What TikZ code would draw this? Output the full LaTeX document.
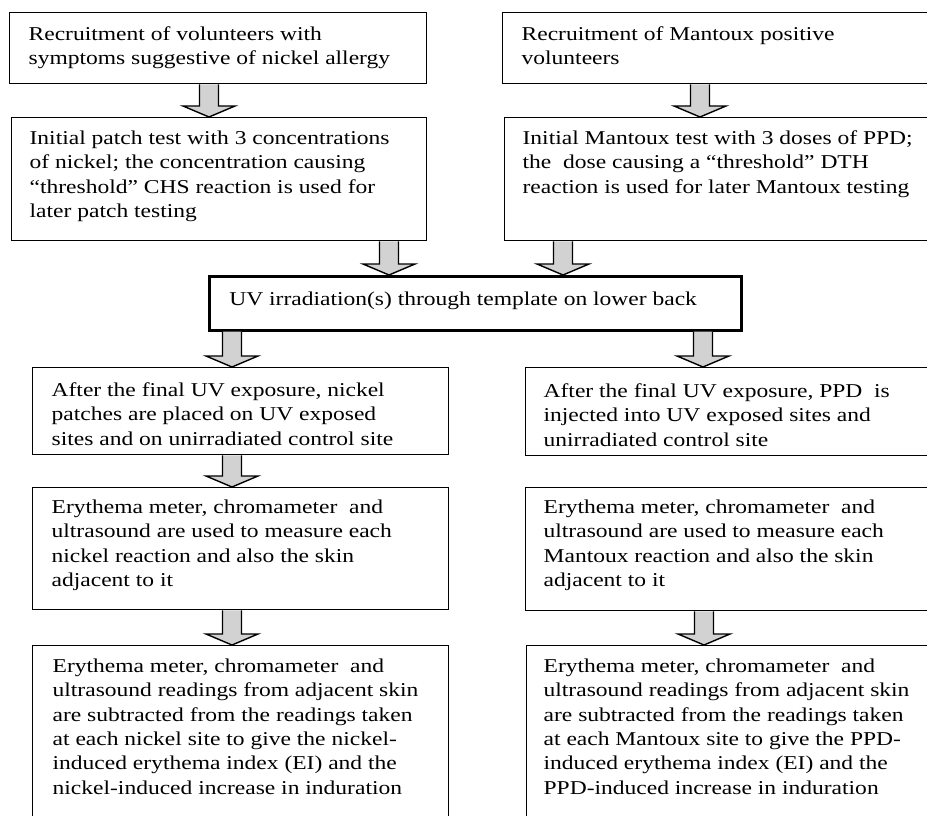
\documentclass[tikz,border=0pt]{standalone}
\usepackage{fontspec}
\setmainfont{Liberation Serif}[FakeStretch=1.2]
\usetikzlibrary{calc}
% #1 width, #2 height, #3 left pad, #4 first baseline from top, #5 text
\newcommand\boxtext[5]{\parbox[c][#2][t]{#1}{\raggedright\setlength{\leftskip}{#3}\rule{0pt}{#4}#5\par}}
\tikzset{
  flowbox/.style={draw, line width=1.3pt, inner sep=0pt, anchor=north west,
    font=\fontsize{19.6}{24.3}\selectfont},
  uvbox/.style={flowbox, line width=2.6pt},
  fatarr/.style={draw=black, fill=gray!35, line width=1.4pt, line join=miter},
}
\newcommand\fatarrow[3]{%
  \path (#1,0 |- #2.south) coordinate (fas) (#1,0 |- #3.north) coordinate (fae);
  \draw[fatarr] ($(fas)+(-9.5,0)$) -- ($(fae)+(-9.5,-11)$) -- ($(fae)+(-26,-11)$)
     -- (fae) -- ($(fae)+(26,-11)$) -- ($(fae)+(9.5,-11)$) -- ($(fas)+(9.5,0)$);
}
\begin{document}
\begin{tikzpicture}[x=1pt,y=-1pt]
\useasboundingbox (0,0) rectangle (927,816);
\clip (0,0) rectangle (927,816);
\fill[white] (0,0) rectangle (927,816);
% top row
\node[flowbox] (L1) at (9,12) {\boxtext{417pt}{71pt}{19pt}{28pt}{Recruitment of volunteers with\\ symptoms suggestive of nickel allergy}};
\node[flowbox] (R1) at (502,12) {\boxtext{440pt}{71pt}{19pt}{28pt}{Recruitment of Mantoux positive\\ volunteers}};
\node[flowbox] (L2) at (11,117) {\boxtext{415pt}{123pt}{18pt}{27pt}{Initial patch test with 3 concentrations\\ of nickel; the concentration causing\\ ``threshold'' CHS reaction is used for\\ later patch testing}};
\node[flowbox] (R2) at (504,117) {\boxtext{440pt}{123pt}{18pt}{27pt}{Initial Mantoux test with 3 doses of PPD;\\ the\ \ dose causing a ``threshold'' DTH\\ reaction is used for later Mantoux testing}};
% UV box
\node[uvbox] (UV) at (208,275) {\boxtext{532pt}{54pt}{20pt}{29pt}{UV irradiation(s) through template on lower back}};
% lower left
\node[flowbox] (L4) at (32,367) {\boxtext{416pt}{87pt}{19pt}{29pt}{After the final UV exposure, nickel\\ patches are placed on UV exposed\\ sites and on unirradiated control site}};
\node[flowbox] (L5) at (32,487) {\boxtext{416pt}{122pt}{19pt}{26pt}{Erythema meter, chromameter\ \ and\\ ultrasound are used to measure each\\ nickel reaction and also the skin\\ adjacent to it}};
\node[flowbox] (L6) at (32,645) {\boxtext{416pt}{190pt}{20pt}{27pt}{Erythema meter, chromameter\ \ and\\ ultrasound readings from adjacent skin\\ are subtracted from the readings taken\\ at each nickel site to give the nickel-\\ induced erythema index (EI) and the\\ nickel-induced increase in induration}};
% lower right
\node[flowbox] (R4) at (525,367) {\boxtext{420pt}{88pt}{18pt}{30pt}{After the final UV exposure, PPD\ \ is\\ injected into UV exposed sites and\\ unirradiated control site}};
\node[flowbox] (R5) at (525,487) {\boxtext{420pt}{123pt}{18pt}{26pt}{Erythema meter, chromameter\ \ and\\ ultrasound are used to measure each\\ Mantoux reaction and also the skin\\ adjacent to it}};
\node[flowbox] (R6) at (526,645) {\boxtext{420pt}{190pt}{17pt}{27pt}{Erythema meter, chromameter\ \ and\\ ultrasound readings from adjacent skin\\ are subtracted from the readings taken\\ at each Mantoux site to give the PPD-\\ induced erythema index (EI) and the\\ PPD-induced increase in induration}};
% arrows
\fatarrow{209}{L1}{L2}
\fatarrow{700}{R1}{R2}
\fatarrow{389}{L2}{UV}
\fatarrow{563}{R2}{UV}
\fatarrow{232}{UV}{L4}
\fatarrow{703}{UV}{R4}
\fatarrow{232}{L4}{L5}
\fatarrow{232}{L5}{L6}
\fatarrow{704}{R5}{R6}
\end{tikzpicture}
\end{document}
